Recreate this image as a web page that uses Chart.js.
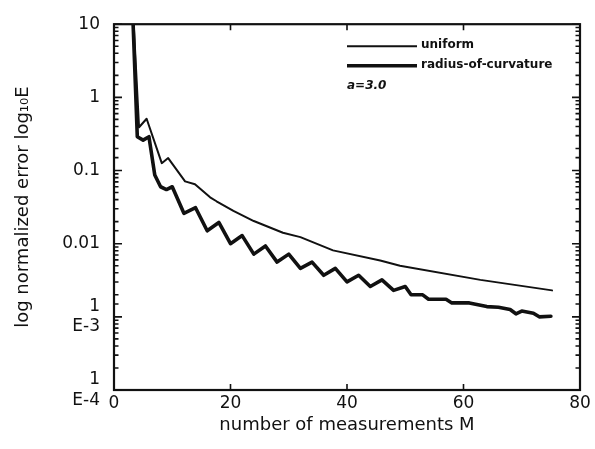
<!DOCTYPE html>
<html>
<head>
<meta charset="utf-8">
<script src="https://cdn.jsdelivr.net/npm/chart.js@4.4.1/dist/chart.umd.min.js"></script>
<style>
  html, body { margin: 0; padding: 0; background: #fff; }
  #wrap { width: 595px; height: 449px; }
</style>
</head>
<body>
<div id="wrap"><canvas id="errorChart" width="595" height="449"></canvas></div>
<script>
// error vs. number of measurements, two sampling schemes
const uniformM = [3, 4.3, 5.6, 8.2, 9.3, 12.2, 13.9, 16.5, 17.6, 20.5, 24, 29, 32, 37.6, 45.7, 49.1, 62.9, 75.2];
const uniformE = [40, 0.39, 0.51, 0.126, 0.148, 0.071, 0.065, 0.043, 0.038, 0.028, 0.0204, 0.0141, 0.0123, 0.0081, 0.0059, 0.0050, 0.0032, 0.0023];

const curvatureM = [3, 4, 5, 6, 7, 8, 9, 10, 12, 14, 16, 18, 20, 22, 24, 26, 28, 30, 32, 34, 36, 38, 40, 42, 44, 46, 48, 50, 51, 53, 54, 57, 58, 61, 64, 66, 68, 69, 70, 72, 73, 75];
const curvatureE = [40, 0.29, 0.26, 0.29, 0.087, 0.06, 0.055, 0.06, 0.026, 0.031, 0.015, 0.0195, 0.010, 0.0129, 0.0072, 0.0093, 0.0056, 0.0072, 0.0046, 0.0056, 0.0037, 0.0046, 0.0030, 0.0037, 0.0026, 0.0032, 0.0023, 0.0026, 0.0020, 0.0020, 0.00174, 0.00174, 0.00155, 0.00155, 0.00138, 0.00135, 0.00126, 0.0011, 0.0012, 0.00112, 0.0010, 0.00102];

const xTickValues = [0, 20, 40, 60, 80];
const yDecades = [10, 1, 0.1, 0.01, 0.001, 0.0001];
const yDecadeLabels = ['10', '1', '0.1', '0.01', ['1', 'E-3'], ['1', 'E-4']];

const INK = '#111';
const tickFont = { family: 'DejaVu Sans', size: 17 };
const titleFont = { family: 'DejaVu Sans', size: 18 };

function toPoints(xs, ys) {
    return xs.map(function (m, i) { return { x: m, y: ys[i] }; });
}

function isDecade(v) {
    const l = Math.log10(v);
    return Math.abs(l - Math.round(l)) < 1e-6;
}

// box round the plot plus inward tick marks on all four sides
const frameTicks = {
    id: 'frameTicks',
    afterDatasetsDraw(chart) {
        const ctx = chart.ctx;
        const a = chart.chartArea;
        const xs = chart.scales.x;
        const ys = chart.scales.y;
        ctx.save();
        ctx.strokeStyle = INK;
        ctx.lineWidth = 2.2;
        ctx.strokeRect(a.left, a.top, a.right - a.left, a.bottom - a.top);

        ctx.lineWidth = 1.6;
        ctx.beginPath();
        ys.ticks.forEach(function (t) {
            const py = ys.getPixelForValue(t.value);
            const len = isDecade(t.value) ? 8 : 4.5;
            ctx.moveTo(a.left, py);
            ctx.lineTo(a.left + len, py);
            ctx.moveTo(a.right, py);
            ctx.lineTo(a.right - len, py);
        });
        xs.ticks.forEach(function (t) {
            if (t.value <= xs.min || t.value >= xs.max) return;
            const px = xs.getPixelForValue(t.value);
            ctx.moveTo(px, a.bottom);
            ctx.lineTo(px, a.bottom - 6);
            ctx.moveTo(px, a.top);
            ctx.lineTo(px, a.top + 6);
        });
        ctx.stroke();
        ctx.restore();
    }
};

// key in the upper right of the plot
const keyBox = {
    id: 'keyBox',
    afterDraw(chart) {
        const ctx = chart.ctx;
        const a = chart.chartArea;
        const x0 = a.left + 233;
        const x1 = a.left + 303;
        ctx.save();
        ctx.strokeStyle = INK;
        ctx.fillStyle = INK;
        chart.data.datasets.forEach(function (ds, i) {
            const y = a.top + 22 + i * 19.5;
            ctx.lineWidth = ds.borderWidth;
            ctx.beginPath();
            ctx.moveTo(x0, y);
            ctx.lineTo(x1, y);
            ctx.stroke();
            ctx.font = 'bold 12px "DejaVu Sans"';
            ctx.textBaseline = 'middle';
            ctx.textAlign = 'left';
            ctx.fillText(ds.label, x1 + 4, y - 1);
        });
        ctx.font = 'italic bold 12px "DejaVu Sans"';
        ctx.fillText('a=3.0', x0, a.top + 62);
        ctx.restore();
    }
};

new Chart(document.getElementById('errorChart'), {
    type: 'line',
    data: {
        datasets: [{
            label: 'uniform',
            data: toPoints(uniformM, uniformE),
            borderColor: INK,
            borderWidth: 2,
            borderJoinStyle: 'round',
            borderCapStyle: 'round',
            pointRadius: 0,
            tension: 0
        }, {
            label: 'radius-of-curvature',
            data: toPoints(curvatureM, curvatureE),
            borderColor: INK,
            borderWidth: 3.6,
            borderJoinStyle: 'round',
            borderCapStyle: 'round',
            pointRadius: 0,
            tension: 0
        }]
    },
    options: {
        responsive: false,
        animation: false,
        devicePixelRatio: 1,
        layout: { padding: { top: 20, right: 15, bottom: 0, left: 0 } },
        plugins: {
            legend: { display: false },
            tooltip: { enabled: false }
        },
        scales: {
            x: {
                type: 'linear',
                min: 0,
                max: 80,
                grid: { display: false, drawTicks: false },
                border: { display: false },
                afterBuildTicks: function (scale) {
                    scale.ticks = xTickValues.map(function (v) { return { value: v }; });
                },
                ticks: {
                    color: INK,
                    font: tickFont,
                    padding: 3,
                    maxRotation: 0,
                    autoSkip: false
                },
                title: {
                    display: true,
                    text: 'number of measurements M',
                    color: INK,
                    font: titleFont,
                    padding: { top: 0, bottom: 13 }
                },
                afterFit: function (scale) { scale.height = 59; }
            },
            y: {
                type: 'logarithmic',
                min: 0.0001,
                max: 10,
                grid: { display: false, drawTicks: false },
                border: { display: false },
                ticks: {
                    color: INK,
                    font: tickFont,
                    padding: 14,
                    autoSkip: false,
                    callback: function (value) {
                        for (let i = 0; i < yDecades.length; i++) {
                            if (Math.abs(Math.log10(value) - Math.log10(yDecades[i])) < 1e-6) {
                                return yDecadeLabels[i];
                            }
                        }
                        return '';
                    }
                },
                title: {
                    display: true,
                    text: 'log normalized error log\u2081\u2080E',
                    color: INK,
                    font: titleFont,
                    padding: { top: 13, bottom: 0 }
                },
                afterFit: function (scale) { scale.width = 114; }
            }
        }
    },
    plugins: [frameTicks, keyBox]
});
</script>
</body>
</html>
